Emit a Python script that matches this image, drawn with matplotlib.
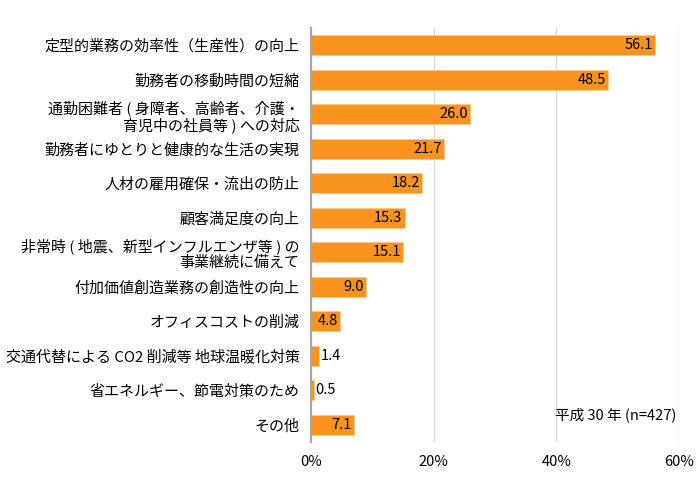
import matplotlib
matplotlib.use('Agg')
import matplotlib.pyplot as plt

plt.rcParams['font.family'] = ['Noto Sans CJK JP', 'DejaVu Sans']

categories = [
    '定型的業務の効率性（生産性）の向上',
    '勤務者の移動時間の短縮',
    '通勤困難者 ( 身障者、高齢者、介護・\n育児中の社員等 ) への対応',
    '勤務者にゆとりと健康的な生活の実現',
    '人材の雇用確保・流出の防止',
    '顧客満足度の向上',
    '非常時 ( 地震、新型インフルエンザ等 ) の\n事業継続に備えて',
    '付加価値創造業務の創造性の向上',
    'オフィスコストの削減',
    '交通代替による CO2 削減等 地球温暖化対策',
    '省エネルギー、節電対策のため',
    'その他',
]
values = [56.1, 48.5, 26.0, 21.7, 18.2, 15.3, 15.1, 9.0, 4.8, 1.4, 0.5, 7.1]
xticks = [0, 20, 40, 60]
note = '平成 30 年 (n=427)'

fig = plt.figure(figsize=(7, 5), dpi=100)
ax = fig.add_axes([0.444, 0.116, 0.526, 0.828])

pos = list(range(len(values)))
ax.barh(pos, values, height=0.58, color='#F7931E', edgecolor='#FBC98A', linewidth=0.6, zorder=3)

for y, v in zip(pos, values):
    if v >= 3:
        ax.text(v - 0.4, y, f'{v:.1f}', ha='right', va='center', fontsize=10.5, color='black', zorder=4)
    else:
        ax.text(v + 0.2, y, f'{v:.1f}', ha='left', va='center', fontsize=10.5, color='black', zorder=4)

ax.set_ylim(len(values) - 0.5, -0.5)
ax.set_xlim(0, 60)
ax.set_yticks(pos)
ax.set_yticklabels(categories, fontsize=10.8, linespacing=1.1)
ax.set_xticks(xticks)
ax.set_xticklabels([f'{t}%' for t in xticks], fontsize=10.5)
ax.tick_params(axis='both', length=0)
ax.tick_params(axis='y', pad=8)
ax.tick_params(axis='x', pad=9)

for s in ['top', 'right', 'bottom']:
    ax.spines[s].set_visible(False)
ax.spines['left'].set_color('#A6A6A6')
ax.spines['left'].set_linewidth(1.5)
ax.spines['left'].set_zorder(5)
ax.xaxis.grid(True, color='#D9D9D9', linewidth=1.0, zorder=0)

ax.text(59.6, 10.7, note, ha='right', va='center', fontsize=10.5)

fig.savefig('out.png', dpi=100)
